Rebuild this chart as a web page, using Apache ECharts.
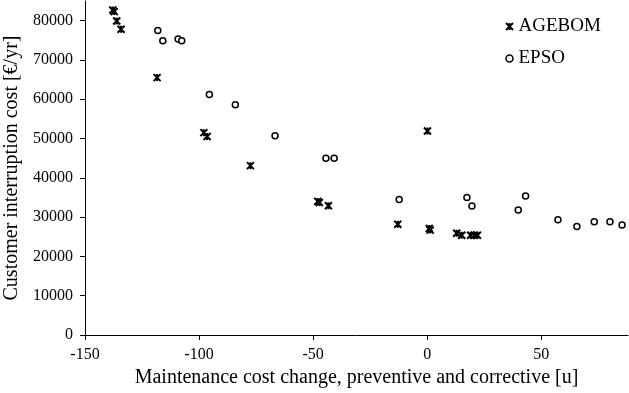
<!DOCTYPE html>
<html>
<head>
<meta charset="utf-8">
<script src="https://cdn.jsdelivr.net/npm/echarts@6/dist/echarts.min.js"></script>
<style>html,body{margin:0;padding:0;background:#fff;}#c{width:629px;height:393px;}</style>
</head>
<body>
<div id="c"></div>
<script>
var agebomX = [-137.8, -137.2, -136.1, -134.2, -118.4, -97.9, -96.5, -77.5, -48.0, -47.3, -43.3, -12.9, 0.1, 0.9, 1.3, 12.9, 15.1, 19.0, 20.6, 22.0];
var agebomY = [82700, 82300, 79900, 77800, 65500, 51500, 50500, 43100, 34000, 33700, 32900, 28200, 51900, 27100, 26700, 25900, 25400, 25400, 25400, 25400];
var epsoX = [-118.1, -115.9, -109.2, -107.6, -95.5, -84.1, -66.7, -44.4, -40.8, -12.3, 17.4, 19.6, 39.9, 43.1, 57.3, 65.6, 73.2, 80.1, 85.4];
var epsoY = [77500, 74900, 75300, 74900, 61200, 58600, 50700, 45000, 45000, 34500, 35000, 32800, 31800, 35400, 29300, 27600, 28800, 28800, 28000];
var xTicks = [-150, -100, -50, 0, 50];
var yTicks = [0, 10000, 20000, 30000, 40000, 50000, 60000, 70000, 80000];

function pairs(xs, ys) { return xs.map(function (x, i) { return [x, ys[i]]; }); }
var starPath = 'path://M0,0 L10,10 M10,0 L0,10 M5,0 L5,10';
var font = '"Liberation Serif", "Times New Roman", serif';
function plain(v) { return String(v); }

var chart = echarts.init(document.getElementById('c'));
chart.setOption({
  animation: false,
  backgroundColor: '#fff',
  textStyle: { fontFamily: font, color: '#000' },
  grid: { left: 85, right: 1, top: 1, bottom: 58, containLabel: false, outerBoundsMode: 'none' },
  legend: {
    orient: 'vertical', left: 500, top: 12, itemGap: 13, itemWidth: 8, itemHeight: 7,
    textStyle: { fontFamily: font, fontSize: 19, color: '#000' },
    data: [
      { name: 'AGEBOM', icon: starPath, itemStyle: { color: 'transparent', borderColor: '#000', borderWidth: 2 } },
      { name: 'EPSO', icon: 'circle', itemStyle: { color: '#fff', borderColor: '#000', borderWidth: 1.5 } }
    ]
  },
  xAxis: {
    type: 'value', min: -150, max: 88,
    name: 'Maintenance cost change, preventive and corrective [u]',
    nameLocation: 'middle', nameGap: 30,
    nameTextStyle: { fontFamily: font, fontSize: 20, color: '#000' },
    axisLine: { onZero: false, lineStyle: { color: '#000', width: 1 } },
    axisTick: { show: true, length: 5, inside: false, customValues: xTicks, lineStyle: { color: '#000' } },
    axisLabel: { customValues: xTicks, formatter: plain, margin: 12, fontFamily: font, fontSize: 16, color: '#000' },
    splitLine: { show: false }
  },
  yAxis: {
    type: 'value', min: 0, max: 85000,
    name: 'Customer interruption cost [€/yr]',
    nameLocation: 'middle', nameGap: 61,
    nameTextStyle: { fontFamily: font, fontSize: 20, color: '#000' },
    axisLine: { show: true, onZero: false, lineStyle: { color: '#000', width: 1 } },
    axisTick: { show: true, length: 5, inside: false, customValues: yTicks, lineStyle: { color: '#000' } },
    axisLabel: { customValues: yTicks, formatter: plain, margin: 12, fontFamily: font, fontSize: 16, color: '#000' },
    splitLine: { show: false }
  },
  series: [
    {
      name: 'AGEBOM', type: 'scatter', data: pairs(agebomX, agebomY),
      symbol: starPath, symbolSize: 7,
      itemStyle: { color: 'transparent', borderColor: '#000', borderWidth: 2, opacity: 1 }
    },
    {
      name: 'EPSO', type: 'scatter', data: pairs(epsoX, epsoY),
      symbol: 'circle', symbolSize: 6,
      itemStyle: { color: '#fff', borderColor: '#000', borderWidth: 1.5, opacity: 1 }
    }
  ]
});
</script>
</body>
</html>
